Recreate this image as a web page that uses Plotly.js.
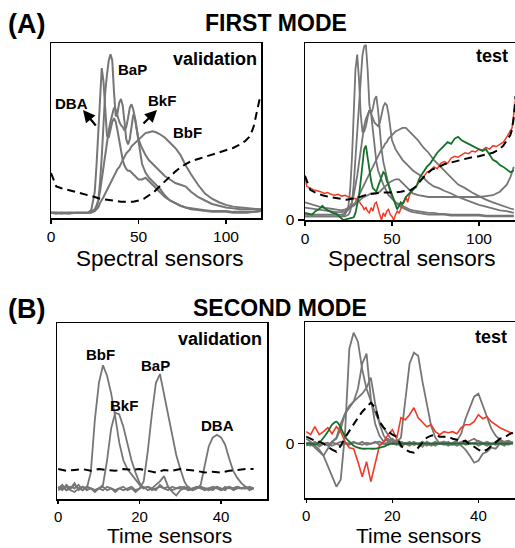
<!DOCTYPE html>
<html>
<head>
<meta charset="utf-8">
<script src="https://cdn.plot.ly/plotly-3.0.1.min.js"></script>
<style>html,body{margin:0;padding:0;background:#fff}#chart{width:515px;height:548px}</style>
</head>
<body>
<div id="chart"></div>
<script>
// ---------- FIRST MODE (spectral sensors) ----------
const xSpec = [0,3,6,10,14,18,21,23,25,26,27,28,29,30,31,32,33,34,35,36,37,38,39,40,41,42,43,44,45,46,47,48,49,50,52,54,56,58,60,62,65,68,71,74,77,80,84,88,92,96,100,104,108,112,116,118,120];

// validation spectra
const valDBA = [0.03,0.025,0.03,0.025,0.03,0.028,0.03,0.045,0.15,0.3,0.5,0.74,0.857,0.78,0.6,0.47,0.46,0.5,0.55,0.57,0.55,0.5,0.44,0.38,0.33,0.3,0.28,0.27,0.27,0.26,0.25,0.24,0.23,0.22,0.22,0.23,0.21,0.19,0.17,0.15,0.12,0.1,0.085,0.07,0.06,0.055,0.05,0.045,0.04,0.04,0.04,0.035,0.035,0.035,0.035,0.04,0.04];
const valBaP = [0.03,0.03,0.025,0.03,0.028,0.03,0.03,0.03,0.04,0.06,0.1,0.2,0.35,0.55,0.72,0.82,0.9,0.935,0.9,0.72,0.58,0.6,0.66,0.68,0.64,0.55,0.45,0.42,0.45,0.52,0.59,0.57,0.5,0.42,0.31,0.26,0.23,0.21,0.19,0.17,0.13,0.1,0.085,0.07,0.06,0.05,0.045,0.04,0.035,0.035,0.035,0.03,0.03,0.03,0.035,0.035,0.04];
const valBkF = [0.03,0.03,0.03,0.028,0.03,0.03,0.03,0.035,0.05,0.07,0.1,0.15,0.22,0.3,0.38,0.45,0.5,0.55,0.6,0.63,0.62,0.58,0.55,0.53,0.52,0.5,0.52,0.57,0.63,0.65,0.62,0.57,0.5,0.45,0.4,0.36,0.33,0.31,0.29,0.27,0.24,0.22,0.2,0.19,0.18,0.15,0.12,0.1,0.08,0.07,0.06,0.055,0.05,0.05,0.05,0.05,0.05];
const valBbF = [0.03,0.03,0.03,0.03,0.03,0.03,0.03,0.035,0.04,0.05,0.06,0.085,0.1,0.12,0.14,0.16,0.18,0.2,0.22,0.24,0.26,0.28,0.29,0.31,0.33,0.35,0.37,0.38,0.39,0.41,0.42,0.43,0.44,0.45,0.47,0.485,0.49,0.495,0.49,0.48,0.46,0.43,0.4,0.36,0.3,0.25,0.19,0.14,0.11,0.09,0.075,0.065,0.06,0.055,0.05,0.05,0.05];
const xDashVal1 = [0,3,6,10,14,18,21,25,28,31,34,37,40,44,47,50,53,56,59,62,65,68,71,74,77,80,85,90,95,100,104,108,111,113,115,116,117,118,119,120];
const valDash1 = [0.257,0.18,0.17,0.16,0.15,0.14,0.13,0.12,0.11,0.105,0.1,0.095,0.093,0.093,0.093,0.1,0.11,0.13,0.15,0.18,0.21,0.24,0.265,0.29,0.31,0.325,0.34,0.355,0.37,0.385,0.4,0.42,0.44,0.46,0.5,0.53,0.58,0.64,0.67,0.7];

// test spectra
const testG1 = [0.02,0.02,0.02,0.02,0.02,0.02,0.02,0.03,0.08,0.18,0.35,0.6,0.85,0.935,0.8,0.6,0.5,0.5,0.53,0.58,0.62,0.6,0.5,0.4,0.33,0.28,0.25,0.23,0.2,0.18,0.16,0.14,0.13,0.12,0.1,0.09,0.08,0.07,0.06,0.055,0.05,0.045,0.04,0.04,0.035,0.035,0.03,0.03,0.03,0.03,0.03,0.025,0.025,0.025,0.025,0.025,0.025];
const testG2 = [0.02,0.02,0.02,0.02,0.02,0.02,0.02,0.02,0.03,0.05,0.1,0.2,0.35,0.5,0.68,0.82,0.93,0.98,0.99,0.85,0.65,0.6,0.63,0.68,0.7,0.62,0.5,0.4,0.33,0.28,0.24,0.2,0.16,0.13,0.1,0.08,0.07,0.06,0.05,0.045,0.04,0.035,0.03,0.03,0.03,0.03,0.025,0.025,0.025,0.025,0.025,0.02,0.02,0.02,0.02,0.02,0.02];
const testG3 = [0.03,0.03,0.03,0.03,0.03,0.03,0.03,0.04,0.06,0.08,0.1,0.14,0.19,0.25,0.32,0.4,0.47,0.53,0.57,0.6,0.62,0.6,0.57,0.55,0.54,0.53,0.55,0.6,0.64,0.66,0.65,0.6,0.52,0.45,0.4,0.37,0.34,0.32,0.3,0.28,0.26,0.24,0.21,0.19,0.18,0.165,0.15,0.13,0.115,0.1,0.085,0.075,0.065,0.055,0.05,0.045,0.04];
const testG4 = [0.07,0.065,0.06,0.055,0.05,0.045,0.045,0.05,0.06,0.07,0.08,0.09,0.1,0.12,0.14,0.16,0.18,0.2,0.22,0.24,0.26,0.28,0.3,0.32,0.34,0.36,0.38,0.4,0.41,0.43,0.44,0.46,0.47,0.48,0.5,0.51,0.52,0.52,0.5,0.48,0.45,0.41,0.38,0.34,0.31,0.28,0.24,0.2,0.18,0.155,0.135,0.115,0.1,0.085,0.07,0.065,0.06];
const testG5 = [0.1,0.09,0.08,0.07,0.065,0.06,0.055,0.06,0.065,0.07,0.075,0.08,0.09,0.1,0.11,0.12,0.125,0.13,0.135,0.14,0.145,0.15,0.15,0.15,0.15,0.155,0.16,0.17,0.18,0.19,0.2,0.21,0.215,0.22,0.23,0.23,0.21,0.19,0.165,0.15,0.14,0.135,0.13,0.13,0.13,0.13,0.13,0.13,0.13,0.13,0.13,0.135,0.14,0.16,0.2,0.24,0.3];
const xDashTest1 = [0,3,6,10,14,18,21,24,27,30,33,36,40,44,48,51,55,58,61,64,67,70,73,77,80,84,88,92,96,100,104,108,111,114,116,118,119,120,121];
const testDash1 = [0.25,0.17,0.155,0.14,0.13,0.125,0.12,0.115,0.12,0.125,0.135,0.145,0.15,0.155,0.155,0.155,0.16,0.165,0.17,0.19,0.23,0.26,0.285,0.3,0.315,0.325,0.335,0.345,0.355,0.36,0.37,0.38,0.395,0.42,0.45,0.48,0.51,0.58,0.7];
const xRed1 = [0,1,3,5,7,9,11,13,15,17,19,21,23,25,27,29,31,32,33,34,35,36,37,38,39,40,41,42,43,44,45,46,47,48,49,50,51,52,53,54,55,56,57,58,59,60,62,64,66,68,70,72,74,76,78,80,82,84,86,88,90,92,94,96,98,100,102,104,106,108,110,112,114,116,118,119,120,121];
const testRed1 = [0.25,0.19,0.18,0.17,0.165,0.16,0.15,0.155,0.145,0.14,0.145,0.135,0.14,0.13,0.125,0.12,0.11,0.09,0.08,0.06,0.07,0.05,0.04,0.07,0.05,0.09,0.1,0.06,0.03,0.0,0.04,0.02,0.05,0.06,0.03,0.02,0.0,0.03,0.05,0.04,0.06,0.09,0.1,0.13,0.1,0.14,0.17,0.19,0.22,0.24,0.27,0.28,0.3,0.29,0.32,0.33,0.32,0.35,0.36,0.355,0.37,0.38,0.375,0.39,0.385,0.4,0.395,0.41,0.4,0.42,0.415,0.43,0.44,0.47,0.5,0.52,0.6,0.68];
const xGreen1 = [0,2,4,6,8,10,12,14,16,18,20,22,24,26,28,29,30,31,32,33,34,35,36,37,38,39,40,41,42,43,44,45,46,47,48,49,50,51,52,53,54,55,56,57,58,60,62,64,66,68,70,72,74,76,78,80,82,84,86,88,90,92,94,96,98,100,102,104,106,108,110,112,114,116,118,120];
const testGreen1 = [0.04,0.035,0.03,0.05,0.06,0.08,0.06,0.05,0.04,0.035,0.02,0.0,0.005,0.01,0.015,0.04,0.08,0.135,0.22,0.32,0.4,0.42,0.35,0.285,0.22,0.18,0.17,0.16,0.19,0.22,0.25,0.27,0.26,0.22,0.2,0.17,0.15,0.12,0.09,0.06,0.08,0.1,0.09,0.11,0.13,0.15,0.17,0.19,0.24,0.27,0.3,0.32,0.35,0.38,0.4,0.42,0.44,0.43,0.46,0.47,0.45,0.44,0.43,0.42,0.41,0.4,0.39,0.4,0.37,0.34,0.33,0.31,0.3,0.285,0.27,0.28];

// ---------- SECOND MODE (time sensors) ----------
const xTime = [0,1,2,3,4,5,6,7,8,9,10,11,12,13,14,15,16,17,18,19,20,21,22,23,24,25,26,27,28,29,30,31,32,33,34,35,36,37,38,39,40,41,42,43,44,45,46,47,48];
const valBbF2 = [0.07,0.05,0.08,0.06,0.09,0.05,0.07,0.06,0.15,0.45,0.66,0.76,0.7,0.6,0.47,0.32,0.22,0.17,0.14,0.11,0.08,0.06,0.07,0.05,0.06,0.07,0.06,0.05,0.07,0.06,0.06,0.07,0.05,0.06,0.07,0.06,0.05,0.06,0.07,0.06,0.05,0.07,0.06,0.06,0.07,0.06,0.06,0.07,0.06];
const valBkF2 = [0.06,0.08,0.05,0.07,0.06,0.08,0.05,0.07,0.06,0.05,0.06,0.08,0.22,0.4,0.49,0.48,0.41,0.32,0.22,0.15,0.09,0.06,0.07,0.06,0.05,0.08,0.06,0.07,0.05,0.06,0.07,0.06,0.07,0.05,0.06,0.07,0.06,0.06,0.05,0.07,0.06,0.05,0.07,0.06,0.07,0.06,0.06,0.06,0.06];
const valBaP2 = [0.05,0.06,0.07,0.05,0.04,0.06,0.07,0.05,0.06,0.04,0.06,0.05,0.07,0.06,0.05,0.06,0.07,0.05,0.06,0.04,0.06,0.1,0.27,0.48,0.66,0.71,0.6,0.49,0.36,0.25,0.17,0.1,0.06,0.05,0.06,0.07,0.06,0.05,0.06,0.07,0.05,0.06,0.07,0.05,0.06,0.06,0.07,0.05,0.06];
const valDBA2 = [0.06,0.07,0.05,0.06,0.08,0.06,0.05,0.07,0.06,0.05,0.06,0.07,0.05,0.06,0.04,0.06,0.05,0.06,0.07,0.05,0.06,0.07,0.05,0.06,0.08,0.1,0.13,0.07,0.04,0.02,0.05,0.06,0.05,0.06,0.06,0.08,0.19,0.3,0.35,0.365,0.35,0.31,0.23,0.16,0.12,0.09,0.07,0.06,0.06];
const xDashVal2 = [0,2,4,6,8,10,12,14,16,18,20,22,24,26,28,30,32,34,36,38,40,42,44,46,48];
const valDash2 = [0.17,0.16,0.165,0.17,0.16,0.17,0.165,0.16,0.17,0.165,0.17,0.16,0.15,0.165,0.16,0.17,0.165,0.16,0.15,0.155,0.15,0.16,0.165,0.17,0.17];

const testT1 = [0.05,0.02,-0.02,-0.06,-0.12,-0.22,-0.33,-0.43,-0.36,0.1,0.95,1.11,1.02,0.74,0.55,0.42,0.31,0.22,0.15,0.09,0.03,-0.01,0.02,0.0,-0.02,0.01,0.0,-0.03,0.02,0.0,-0.02,0.01,0.0,0.02,-0.01,0.0,0.02,-0.01,0.0,0.01,-0.02,0.0,0.02,0.0,-0.01,0.01,0.0,0.02,0.0];
const testT2 = [0.0,-0.02,0.01,-0.03,0.0,-0.02,0.02,0.06,0.2,0.3,0.36,0.42,0.55,0.8,0.9,0.45,0.2,0.08,0.02,0.05,0.0,0.04,-0.02,0.01,0.0,0.02,-0.01,0.0,0.01,-0.02,0.0,0.01,0.02,0.0,-0.01,0.01,0.0,0.02,0.01,0.0,0.03,0.01,0.0,-0.01,0.02,0.0,0.01,0.0,0.01];
const testT3 = [-0.02,0.0,-0.04,-0.08,-0.12,-0.05,0.02,0.05,0.15,0.3,0.38,0.42,0.46,0.5,0.56,0.66,0.4,0.2,0.08,0.02,0.05,0.01,-0.03,0.0,0.02,-0.01,0.0,0.01,-0.02,0.0,0.02,0.0,-0.01,0.01,0.0,-0.02,0.0,0.01,0.03,0.05,0.02,0.0,-0.02,0.0,0.01,0.03,0.0,-0.01,0.02];
const testT4 = [0.01,0.0,0.02,-0.01,0.0,0.01,-0.02,0.0,0.02,0.0,-0.01,0.01,0.0,0.02,-0.01,0.0,0.01,0.02,0.0,-0.01,0.01,0.02,0.06,0.45,0.8,0.91,0.88,0.62,0.38,0.18,0.06,0.0,0.0,-0.02,0.0,0.02,-0.02,-0.06,-0.12,-0.19,-0.17,-0.1,-0.08,-0.04,-0.05,0.0,-0.02,0.01,0.0];
const testT5 = [0.0,0.01,-0.01,0.02,0.0,-0.01,0.01,0.0,-0.02,0.01,0.0,0.02,0.0,-0.01,0.01,0.0,0.02,-0.01,0.0,0.01,0.0,-0.01,0.02,0.0,0.01,-0.01,0.0,0.02,0.0,-0.01,0.01,0.0,0.02,0.0,0.01,0.03,0.1,0.25,0.36,0.47,0.5,0.38,0.25,0.15,0.08,0.04,0.02,0.03,0.01];
const testDash2 = [0.07,0.05,0.03,0.02,0.0,-0.03,-0.06,-0.08,-0.02,0.06,0.13,0.2,0.26,0.32,0.37,0.41,0.36,0.22,0.16,0.12,0.09,0.07,-0.02,-0.06,-0.08,-0.09,-0.04,0.02,0.06,0.08,0.09,0.07,0.07,0.07,0.05,0.04,0.02,0.03,-0.01,-0.03,-0.06,-0.08,-0.06,-0.02,0.02,0.05,0.06,0.09,0.11];
const testRed2 = [0.12,0.09,0.17,0.09,0.12,0.16,0.1,0.17,0.12,0.02,-0.04,-0.05,-0.18,-0.33,-0.18,-0.38,-0.2,-0.02,0.02,0.09,0.14,0.05,0.26,0.24,0.29,0.36,0.26,0.22,0.17,0.19,0.12,0.09,0.12,0.11,0.12,0.1,0.16,0.19,0.19,0.22,0.29,0.25,0.27,0.22,0.19,0.16,0.14,0.12,0.1];
const testGreen2 = [0.0,0.0,-0.01,0.01,0.06,0.12,0.19,0.22,0.16,0.07,0.02,-0.02,-0.04,-0.05,-0.05,-0.05,-0.05,-0.04,-0.03,-0.01,0.0,0.0,0.0,0.0,0.0,0.0,0.0,0.0,0.0,0.0,0.0,0.0,0.0,0.0,0.0,0.0,0.0,0.0,0.0,0.0,0.0,0.0,0.0,0.0,0.0,0.0,0.0,0.0,0.0];

// tick labels
const specTicks = [0, 50, 100];
const timeTicks = [0, 20, 40];

// ---------- styling ----------
const GRAY = 'rgb(118,118,118)';
const RED = 'rgb(240,58,38)';
const GREEN = 'rgb(22,112,42)';
const FONT = 'Liberation Sans, Arial, Helvetica, sans-serif';

function tr(x, y, xa, ya, color, width, dash, shape) {
  return {x: x, y: y, xaxis: xa, yaxis: ya, type: 'scatter', mode: 'lines',
    line: {color: color, width: width, dash: dash || 'solid', shape: shape || 'linear'},
    hoverinfo: 'skip', showlegend: false};
}
const DASH = '8px,5px';
const traces = [
  tr(xSpec, valDBA, 'x', 'y', GRAY, 2),
  tr(xSpec, valBaP, 'x', 'y', GRAY, 2),
  tr(xSpec, valBkF, 'x', 'y', GRAY, 2),
  tr(xSpec, valBbF, 'x', 'y', GRAY, 2),
  tr(xDashVal1, valDash1, 'x', 'y', '#000', 2, DASH),

  tr(xSpec, testG1, 'x2', 'y2', GRAY, 1.8),
  tr(xSpec, testG2, 'x2', 'y2', GRAY, 1.8),
  tr(xSpec, testG3, 'x2', 'y2', GRAY, 1.8),
  tr(xSpec, testG4, 'x2', 'y2', GRAY, 1.8),
  tr(xSpec, testG5, 'x2', 'y2', GRAY, 1.8),
  tr(xRed1, testRed1, 'x2', 'y2', RED, 1.5),
  tr(xGreen1, testGreen1, 'x2', 'y2', GREEN, 1.8),
  tr(xDashTest1, testDash1, 'x2', 'y2', '#000', 2, DASH),

  tr(xTime, valBbF2, 'x3', 'y3', GRAY, 1.8),
  tr(xTime, valBkF2, 'x3', 'y3', GRAY, 1.8),
  tr(xTime, valBaP2, 'x3', 'y3', GRAY, 1.8),
  tr(xTime, valDBA2, 'x3', 'y3', GRAY, 1.8),
  tr(xDashVal2, valDash2, 'x3', 'y3', '#000', 2, DASH),

  tr(xTime, testT1, 'x4', 'y4', GRAY, 1.8),
  tr(xTime, testT2, 'x4', 'y4', GRAY, 1.8),
  tr(xTime, testT3, 'x4', 'y4', GRAY, 1.8),
  tr(xTime, testT4, 'x4', 'y4', GRAY, 1.8),
  tr(xTime, testT5, 'x4', 'y4', GRAY, 1.8),
  tr(xTime, testRed2, 'x4', 'y4', RED, 1.6),
  tr(xTime, testGreen2, 'x4', 'y4', GREEN, 1.8, 'solid', 'spline'),
  tr(xTime, testDash2, 'x4', 'y4', '#000', 2, DASH)
];

const axBase = {showgrid: false, zeroline: false, showline: true, mirror: true,
  linecolor: '#000', linewidth: 1.5, ticks: 'outside', ticklen: 4, tickwidth: 1.5,
  tickcolor: '#000', tickfont: {size: 15.5, color: '#000'}, fixedrange: true};
function ax(extra) { return Object.assign({}, axBase, extra); }
const smallTick = {size: 15, color: '#000'};

const layout = {
  width: 515, height: 548,
  margin: {l: 0, r: 0, t: 0, b: 0},
  paper_bgcolor: '#fff', plot_bgcolor: '#fff',
  font: {family: FONT, color: '#000'},
  showlegend: false,
  xaxis: ax({domain: [51/515, 261/515], range: [0, 120], tickvals: specTicks, anchor: 'y'}),
  yaxis: ax({domain: [1-218/548, 1-43/548], range: [0, 1], showticklabels: false, ticks: '', anchor: 'x'}),
  xaxis2: ax({domain: [305/515, 1], range: [0, 120.7], tickvals: specTicks, anchor: 'y2'}),
  yaxis2: ax({domain: [1-220/548, 1-43/548], range: [0, 1], tickvals: [0], ticklen: 6, anchor: 'x2'}),
  xaxis3: ax({domain: [57/515, 267/515], range: [-0.3, 51.3], tickvals: timeTicks, ticklen: 3, tickfont: smallTick, anchor: 'y3'}),
  yaxis3: ax({domain: [1-499/548, 1-323/548], range: [0, 1], showticklabels: false, ticks: '', anchor: 'x3'}),
  xaxis4: ax({domain: [305/515, 1], range: [-0.3, 48.5], tickvals: timeTicks, ticklen: 3, tickfont: smallTick, anchor: 'y4'}),
  yaxis4: ax({domain: [1-498/548, 1-322/548], range: [-0.543, 1.217], tickvals: [0], ticklen: 6, anchor: 'x4'}),
  annotations: []
};

function txt(text, px, py, size, xanchor) {
  return {text: text, xref: 'paper', yref: 'paper', x: px/515, y: 1 - py/548,
    xanchor: xanchor || 'center', yanchor: 'middle', showarrow: false,
    font: {size: size, color: '#000', family: FONT}};
}
function arrow(hx, hy, tx, ty) {
  return {text: '', xref: 'paper', yref: 'paper', x: hx/515, y: 1 - hy/548,
    ax: tx - hx, ay: ty - hy, showarrow: true, arrowhead: 2, arrowsize: 1.1,
    arrowwidth: 2.2, arrowcolor: '#000'};
}
layout.annotations.push(
  txt('<b>(A)</b>', 6, 24, 27, 'left'),
  txt('<b>FIRST MODE</b>', 276, 23, 23),
  txt('<b>(B)</b>', 6, 309, 27, 'left'),
  txt('<b>SECOND MODE</b>', 280, 308, 23),
  txt('<b>validation</b>', 259, 59, 18, 'right'),
  txt('<b>test</b>', 510, 56, 18, 'right'),
  txt('<b>validation</b>', 264, 339, 18, 'right'),
  txt('<b>test</b>', 509, 337, 18, 'right'),
  txt('<b>BaP</b>', 132, 69, 15),
  txt('<b>DBA</b>', 71, 103, 15),
  txt('<b>BkF</b>', 162, 101, 15),
  txt('<b>BbF</b>', 187, 132, 15),
  arrow(83, 110, 97, 127),
  arrow(157, 110, 142, 125),
  txt('<b>BbF</b>', 100, 354, 15),
  txt('<b>BkF</b>', 124, 405, 15),
  txt('<b>BaP</b>', 155, 365, 15),
  txt('<b>DBA</b>', 217, 425, 15),
  // axis titles
  txt('Spectral sensors', 160, 258, 22.5),
  txt('Spectral sensors', 412, 258, 22.5),
  txt('Time sensors', 169, 535, 21),
  txt('Time sensors', 418, 535, 21)
);

Plotly.newPlot('chart', traces, layout, {staticPlot: true, displayModeBar: false});
</script>
</body>
</html>
